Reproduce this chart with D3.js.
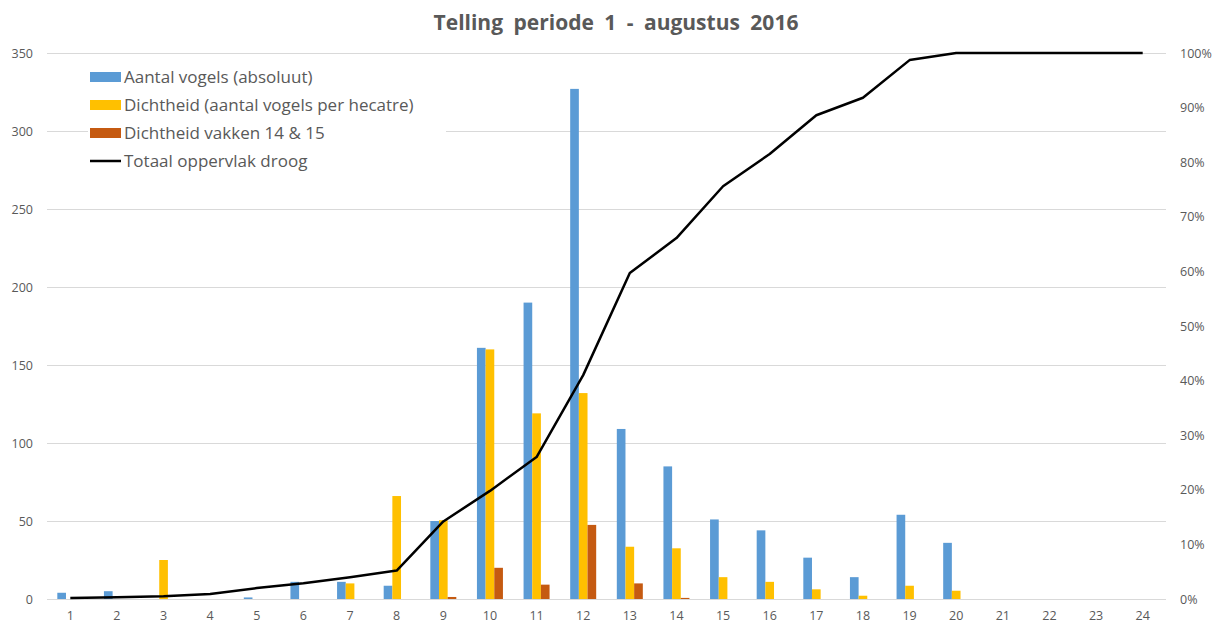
<!DOCTYPE html>
<html>
<head>
<meta charset="utf-8">
<script src="https://cdn.jsdelivr.net/npm/d3@7"></script>
<style>
  body { margin: 0; background: #fff; }
  text { font-family: "Open Sans", "Noto Sans", sans-serif; fill: #595959; }
</style>
</head>
<body>
<div id="chart"></div>
<script>
var categories = ["1","2","3","4","5","6","7","8","9","10","11","12","13","14","15","16","17","18","19","20","21","22","23","24"];
var aantalVogels = [4, 5, 0, 0, 1, 11, 11, 8.5, 50, 161, 190, 327, 109, 85, 51, 44, 26.5, 14, 54, 36, 0, 0, 0, 0];
var dichtheid = [0, 0, 25, 0, 0, 0, 10, 66, 50.5, 160, 119, 132, 33.5, 32.5, 14, 11, 6.2, 2.1, 8.5, 5.3, 0, 0, 0, 0];
var dichtheidVakken = [0, 0, 0, 0, 0, 0, 0, 0, 1.3, 20, 9.2, 47.5, 10, 0.7, 0, 0, 0, 0, 0, 0, 0, 0, 0, 0];
var oppervlakDroog = [0.002, 0.003, 0.005, 0.009, 0.02, 0.029, 0.04, 0.052, 0.142, 0.198, 0.26, 0.41, 0.597, 0.661, 0.756, 0.815, 0.886, 0.918, 0.987, 1, 1, 1, 1, 1];
var leftTicks = [0, 50, 100, 150, 200, 250, 300, 350];
var rightTicks = [0, 0.1, 0.2, 0.3, 0.4, 0.5, 0.6, 0.7, 0.8, 0.9, 1];
var seriesNames = ["Aantal vogels (absoluut)", "Dichtheid (aantal vogels per hecatre)", "Dichtheid vakken 14 & 15"];
var seriesColors = ["#5B9BD5", "#FFC000", "#C55A11"];
var lineName = "Totaal oppervlak droog";

var width = 1219, height = 625;
var margin = {left: 47, right: 53, top: 53, bottom: 26};

var svg = d3.select("#chart").append("svg")
  .attr("width", width)
  .attr("height", height);

var x = d3.scaleBand()
  .domain(categories)
  .range([margin.left, width - margin.right]);
var xInner = d3.scaleBand()
  .domain(seriesNames)
  .range([-13, 13]);
var y = d3.scaleLinear()
  .domain([0, 350])
  .range([height - margin.bottom, margin.top]);
var y2 = d3.scaleLinear()
  .domain([0, 1])
  .range([height - margin.bottom, margin.top]);

// gridlines
svg.append("g")
  .selectAll("line")
  .data(leftTicks)
  .enter()
  .append("line")
  .attr("x1", margin.left)
  .attr("x2", width - margin.right)
  .attr("y1", function(d) { return Math.round(y(d)) + 0.5; })
  .attr("y2", function(d) { return Math.round(y(d)) + 0.5; })
  .attr("stroke", "#D9D9D9")
  .attr("stroke-width", 1);

// left axis
var yAxis = d3.axisLeft(y).tickValues(leftTicks).tickSize(0).tickPadding(14);
var yAxisG = svg.append("g")
  .attr("transform", "translate(" + margin.left + ",0)")
  .call(yAxis);
yAxisG.select(".domain").remove();
yAxisG.selectAll("text").attr("font-size", "12.5px").attr("fill", "#595959");

// right axis
var y2Axis = d3.axisRight(y2).tickValues(rightTicks).tickSize(0).tickPadding(14)
  .tickFormat(d3.format(".0%"));
var y2AxisG = svg.append("g")
  .attr("transform", "translate(" + (width - margin.right) + ",0)")
  .call(y2Axis);
y2AxisG.select(".domain").remove();
y2AxisG.selectAll("text").attr("font-size", "12.5px").attr("fill", "#595959");

// x axis
var xAxis = d3.axisBottom(x).tickSize(0).tickPadding(12);
var xAxisG = svg.append("g")
  .attr("transform", "translate(0," + (height - margin.bottom) + ")")
  .call(xAxis);
xAxisG.select(".domain").remove();
xAxisG.selectAll("text").attr("font-size", "12.5px").attr("fill", "#595959");

// bars
var allSeries = [aantalVogels, dichtheid, dichtheidVakken];
var barData = [];
categories.forEach(function(c, i) {
  allSeries.forEach(function(s, j) {
    if (s[i] > 0) barData.push({cat: c, name: seriesNames[j], color: seriesColors[j], value: s[i]});
  });
});
svg.append("g")
  .selectAll("rect")
  .data(barData)
  .enter()
  .append("rect")
  .attr("x", function(d) { return x(d.cat) + x.bandwidth() / 2 + xInner(d.name); })
  .attr("width", xInner.bandwidth())
  .attr("y", function(d) { return y(d.value); })
  .attr("height", function(d) { return y(0) - y(d.value); })
  .attr("fill", function(d) { return d.color; });

// line
var line = d3.line()
  .x(function(d, i) { return x(categories[i]) + x.bandwidth() / 2; })
  .y(function(d) { return y2(d); });
svg.append("path")
  .datum(oppervlakDroog)
  .attr("d", line)
  .attr("fill", "none")
  .attr("stroke", "#000")
  .attr("stroke-width", 2.5)
  .attr("stroke-linejoin", "round");

// title
svg.append("text")
  .attr("x", 616)
  .attr("y", 30)
  .attr("text-anchor", "middle")
  .attr("font-size", "21px")
  .attr("font-weight", "bold")
  .attr("word-spacing", "5px")
  .style("fill", "#595959")
  .text("Telling periode 1 - augustus 2016");

// legend
var legend = svg.append("g").attr("transform", "translate(88,62)");
legend.append("rect")
  .attr("x", 0)
  .attr("y", 0)
  .attr("width", 358)
  .attr("height", 114)
  .attr("fill", "#fff");
var legendItems = seriesNames.map(function(n, i) { return {name: n, color: seriesColors[i], type: "bar"}; })
  .concat([{name: lineName, color: "#000", type: "line"}]);
var items = legend.selectAll(".legend-item")
  .data(legendItems)
  .enter()
  .append("g")
  .attr("class", "legend-item")
  .attr("transform", function(d, i) { return "translate(0," + (14 + i * 28) + ")"; });
items.filter(function(d) { return d.type == "bar"; })
  .append("rect")
  .attr("x", 2)
  .attr("y", -4)
  .attr("width", 31)
  .attr("height", 10)
  .attr("fill", function(d) { return d.color; });
items.filter(function(d) { return d.type == "line"; })
  .append("line")
  .attr("x1", 2)
  .attr("x2", 33)
  .attr("y1", 1)
  .attr("y2", 1)
  .attr("stroke", "#000")
  .attr("stroke-width", 2.5);
items.append("text")
  .attr("x", 36)
  .attr("y", 7)
  .attr("font-size", "17px")
  .text(function(d) { return d.name; });
</script>
</body>
</html>
